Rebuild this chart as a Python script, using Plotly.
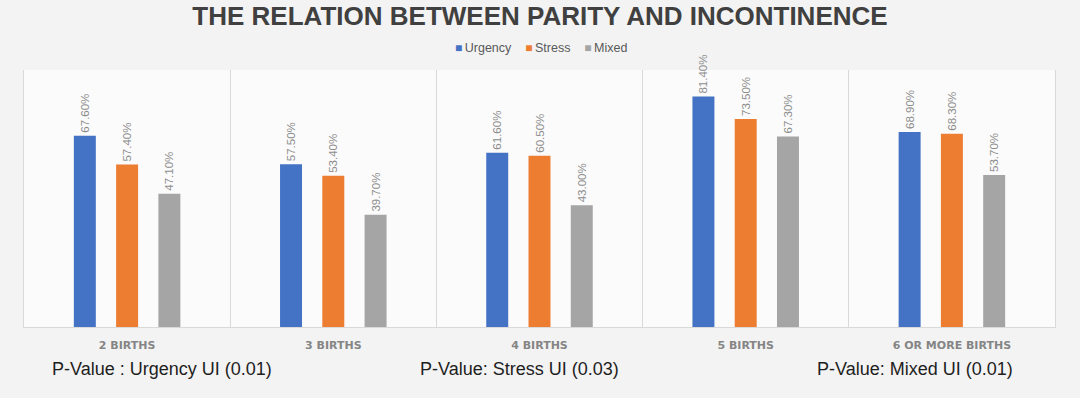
import plotly.graph_objects as go

categories = ["2 BIRTHS", "3 BIRTHS", "4 BIRTHS", "5 BIRTHS", "6 OR MORE BIRTHS"]
urgency = [67.6, 57.5, 61.6, 81.4, 68.9]
stress = [57.4, 53.4, 60.5, 73.5, 68.3]
mixed = [47.1, 39.7, 43.0, 67.3, 53.7]
series_names = ["Urgency", "Stress", "Mixed"]
series_colors = ["#4472C4", "#ED7D31", "#A5A5A5"]
pvalue_notes = ["P-Value : Urgency UI (0.01)", "P-Value: Stress UI (0.03)", "P-Value: Mixed UI (0.01)"]
title_text = "THE RELATION BETWEEN PARITY AND INCONTINENCE"

FONT = "Liberation Sans, Arial, sans-serif"

fig = go.Figure()
for name, vals, col in zip(series_names, [urgency, stress, mixed], series_colors):
    fig.add_trace(go.Bar(
        name=name, x=categories, y=vals, marker=dict(color=col, line=dict(width=0)),
        text=[f"{v:.2f}%" for v in vals], textposition="outside", textangle=-90,
        constraintext="none",
        textfont=dict(family=FONT, size=11.5, color="#8c8c8c"),
        cliponaxis=False, showlegend=False,
    ))

W, H = 1080, 398
ml, mr, mt, mb = 24, 25, 70, 71
pw = W - ml - mr
ph = H - mt - mb

annots = []
note_px = [50, 418, 815]
for txt, px in zip(pvalue_notes, note_px):
    annots.append(dict(
        text=txt, xref="paper", yref="paper", x=(px - ml) / pw, y=-(369 - (H - mb)) / ph,
        xanchor="left", yanchor="middle", showarrow=False,
        font=dict(family=FONT, size=18, color="#1e1e1e"),
    ))

# legend drawn as a single line of text with coloured squares
legend_html = "&nbsp;&nbsp;&nbsp;&nbsp;".join(
    f"<span style='color:{c};font-size:12px'>■</span>&#8201;{n}" for n, c in zip(series_names, series_colors)
)
annots.append(dict(
    text=legend_html, xref="paper", yref="paper", x=(541 - ml) / pw, y=1 + (mt - 48) / ph,
    xanchor="center", yanchor="middle", showarrow=False,
    font=dict(family=FONT, size=12.5, color="#595959"),
))

fig.update_layout(
    width=W, height=H,
    margin=dict(l=ml, r=mr, t=mt, b=mb, pad=0),
    paper_bgcolor="#f3f3f3",
    plot_bgcolor="rgba(251,251,251,0.95)",
    barmode="group", bargap=0.385, bargroupgap=0.48,
    title=dict(text="<b>" + title_text + "</b>", x=0.5, xanchor="center", y=1 - 16 / H, yanchor="middle",
               font=dict(family=FONT, size=26, color="#404040")),
    showlegend=False,
    xaxis=dict(type="category", tickson="boundaries", showgrid=True, gridcolor="#d9d9d9", gridwidth=1,
               showline=True, linecolor="#d9d9d9", linewidth=1, ticks="", ticklabelstandoff=8,
               tickfont=dict(family="DejaVu Sans, sans-serif", size=11, color="#858585", weight="bold")),
    yaxis=dict(range=[0, 90.8], showgrid=False, zeroline=False, showticklabels=False,
               showline=True, mirror=True, linecolor="#d9d9d9", linewidth=1, ticks=""),
    annotations=annots,
    font=dict(family=FONT),
)

fig.write_html("out.html", config={"displayModeBar": False},
               post_script="document.body.style.margin='0';document.body.style.background='#f3f3f3';")
